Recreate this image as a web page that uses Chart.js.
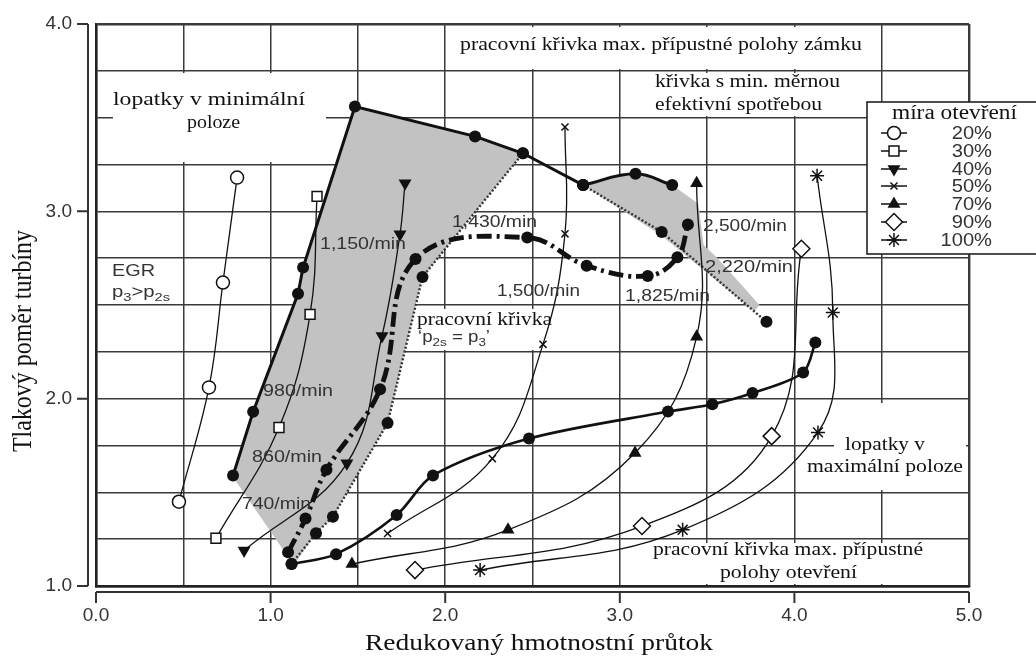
<!DOCTYPE html>
<html><head><meta charset="utf-8">
<script src="https://cdn.jsdelivr.net/npm/chart.js@4.4.1/dist/chart.umd.min.js"></script>
<style>html,body{margin:0;padding:0;background:#fff;}canvas{display:block;}</style>
</head><body>
<canvas id="c" width="1036" height="656"></canvas>
<script>
// ---------- data ----------
const xTickValues = [0, 1, 2, 3, 4, 5];
const yTickValues = [1, 2, 3, 4];
const xTitle = 'Redukovaný hmotnostní průtok';
const yTitle = 'Tlakový poměr turbíny';
const legendTitle = 'míra otevření';
const openingLabels = ['20%', '30%', '40%', '50%', '70%', '90%', '100%'];

const open20  = [[0.475,1.45],[0.647,2.06],[0.727,2.62],[0.808,3.18]];
const open30  = [[0.687,1.255],[1.048,1.846],[1.226,2.45],[1.266,3.08]];
const open40  = [[0.848,1.19],[1.437,1.655],[1.638,2.335],[1.741,2.878],[1.77,3.15]];
const open50  = [[1.67,1.28],[2.27,1.68],[2.56,2.29],[2.686,2.88],[2.686,3.45]];
const open70  = [[1.466,1.117],[2.36,1.30],[3.087,1.71],[3.44,2.33],[3.44,3.15]];
const open90  = [[1.827,1.085],[3.127,1.32],[3.87,1.80],[4.04,2.80]];
const open100 = [[2.20,1.085],[3.36,1.30],[4.135,1.82],[4.22,2.46],[4.13,3.19]];

const vaneMinLine = [[0.785,1.59],[0.9,1.93],[1.157,2.56],[1.186,2.70],[1.483,3.56],[2.171,3.40],[2.445,3.31],[2.79,3.14]];
const lockHump    = [[2.79,3.14],[3.09,3.20],[3.30,3.14]];
const vaneMaxLine = [[1.12,1.117],[1.375,1.17],[1.722,1.379],[1.93,1.59],[2.48,1.787],[3.276,1.931],[3.53,1.97],[3.76,2.03],[4.05,2.14],[4.12,2.30]];
const egrLine     = [[1.10,1.18],[1.20,1.36],[1.32,1.62],[1.627,2.05],[1.83,2.745],[2.47,2.86],[2.81,2.71],[3.16,2.655],[3.33,2.755],[3.39,2.93]];
const p2sEqP3Line = [[1.12,1.117],[1.26,1.282],[1.357,1.37],[1.67,1.87],[1.87,2.65],[2.445,3.31]];
const minBsfcLine = [[2.79,3.14],[3.24,2.89],[3.84,2.41]];

const shadeLow  = [[0.785,1.59],[0.9,1.93],[1.157,2.56],[1.186,2.70],[1.483,3.56],[2.171,3.40],[2.445,3.31],
                   [1.87,2.65],[1.67,1.87],[1.357,1.37],[1.26,1.282],[1.13,1.11],[1.09,1.17],[0.80,1.56]];
const shadeHigh = [[2.79,3.14],[2.94,3.19],[3.09,3.205],[3.20,3.185],[3.30,3.14],[3.45,3.04],[3.48,2.82],
                   [3.56,2.75],[3.80,2.50],[3.77,2.465],[3.24,2.87]];

// ---------- helpers ----------
const pts = a => a.map(([x, y]) => ({x, y}));
const INK = '#111';

function fitText(ctx, txt, family, size, x1, x2, yc, color) {
  ctx.save();
  ctx.font = size + 'px "' + family + '"';
  const w = ctx.measureText(txt).width;
  const sx = (x2 - x1) / w;
  ctx.fillStyle = color; ctx.textAlign = 'left'; ctx.textBaseline = 'middle';
  ctx.translate(x1, yc); ctx.scale(sx, 1);
  ctx.fillText(txt, 0, 0);
  ctx.restore();
}
function richText(ctx, parts, family, size, x1, x2, yc, color) {
  ctx.save();
  let total = 0;
  parts.forEach(([t, sub]) => { ctx.font = (sub ? size * 0.72 : size) + 'px "' + family + '"'; total += ctx.measureText(t).width; });
  const sx = (x2 - x1) / total;
  ctx.translate(x1, yc); ctx.scale(sx, 1);
  ctx.fillStyle = color; ctx.textAlign = 'left'; ctx.textBaseline = 'middle';
  let cx = 0;
  parts.forEach(([t, sub]) => {
    ctx.font = (sub ? size * 0.72 : size) + 'px "' + family + '"';
    ctx.fillText(t, cx, sub ? size * 0.28 : 0);
    cx += ctx.measureText(t).width;
  });
  ctx.restore();
}

const sansNotes = [
  ['1,150/min', 320, 406, 245], ['1,430/min', 452, 537, 223], ['1,500/min', 497, 580, 292],
  ['1,825/min', 625, 710, 297], ['2,500/min', 703, 787, 227], ['2,220/min', 705, 793, 268],
  ['980/min', 263, 333, 392], ['860/min', 252, 322, 458], ['740/min', 242, 311, 505], ['EGR', 112, 155, 272]
];
const serifNotes = [
  ['pracovní křivka max. přípustné polohy zámku', 460, 862, 45],
  ['křivka s min. měrnou', 655, 840, 82], ['efektivní spotřebou', 655, 822, 105],
  ['lopatky v minimální', 113, 305, 100], ['poloze', 187, 240, 123],
  ['lopatky v', 845, 925, 445], ['maximální poloze', 807, 963, 467],
  ['pracovní křivka max. přípustné', 653, 923, 550], ['polohy otevření', 720, 857, 573],
  ['pracovní křivka', 417, 552, 320]
];
const whiteBoxes = [[451,27,877,69],[626,73,877,116],[113,73,326,162],[834,403,966,490],[640,543,966,584],[413,309,556,350]];

const openingStyles = [
  {pointStyle:'circle', radius:6.5, fill:'#fff', rot:0},
  {pointStyle:'rect', radius:7, fill:'#fff', rot:0},
  {pointStyle:'triangle', radius:6, fill:INK, rot:180},
  {pointStyle:'crossRot', radius:5, fill:INK, rot:0},
  {pointStyle:'triangle', radius:6, fill:INK, rot:0},
  {pointStyle:'rectRot', radius:8.5, fill:'#fff', rot:0},
  {pointStyle:'star', radius:7, fill:INK, rot:0}
];
const openingData = [open20, open30, open40, open50, open70, open90, open100];

const datasets = openingData.map((d, i) => ({
  label: openingLabels[i], data: pts(d), showLine: true, tension: 0.4,
  borderColor: INK, borderWidth: 1.3,
  pointStyle: openingStyles[i].pointStyle, pointRadius: openingStyles[i].radius,
  pointRotation: openingStyles[i].rot, pointBackgroundColor: openingStyles[i].fill,
  pointBorderColor: INK, pointBorderWidth: 1.5, order: 1
}));
const dotStyle = {pointStyle:'circle', pointRadius:6, pointBackgroundColor:INK, pointBorderColor:INK, pointBorderWidth:0};
datasets.push(
  Object.assign({label:'min', data: pts(vaneMinLine), showLine:true, tension:0, borderColor:INK, borderWidth:3, order:2}, dotStyle),
  Object.assign({label:'hump', data: pts(lockHump), showLine:true, tension:0.4, borderColor:INK, borderWidth:3, order:2}, dotStyle),
  Object.assign({label:'max', data: pts(vaneMaxLine), showLine:true, tension:0.3, borderColor:INK, borderWidth:2.6, order:2}, dotStyle),
  Object.assign({label:'egr', data: pts(egrLine), showLine:true, tension:0.4, borderColor:INK, borderWidth:4.8, borderDash:[15,5,3,5], order:2}, dotStyle),
  Object.assign({label:'p2s', data: pts(p2sEqP3Line), showLine:true, tension:0, borderColor:'#333', borderWidth:2.4, borderDash:[2,2], order:2}, dotStyle),
  Object.assign({label:'bsfc', data: pts(minBsfcLine), showLine:true, tension:0, borderColor:'#333', borderWidth:2.4, borderDash:[2,2], order:2}, dotStyle),
  {label:'shadeLow', data: pts(shadeLow), showLine:true, tension:0, borderWidth:0, borderColor:'rgba(0,0,0,0)', pointRadius:0, backgroundColor:'#c2c2c2', fill:'shape', order:9},
  {label:'shadeHigh', data: pts(shadeHigh), showLine:true, tension:0, borderWidth:0, borderColor:'rgba(0,0,0,0)', pointRadius:0, backgroundColor:'#c2c2c2', fill:'shape', order:9}
);

const deco = {
  id: 'deco',
  beforeDatasetsDraw(chart) {
    const ctx = chart.ctx;
    ctx.save(); ctx.fillStyle = '#fff';
    whiteBoxes.forEach(b => ctx.fillRect(b[0], b[1], b[2] - b[0], b[3] - b[1]));
    ctx.restore();
  },
  afterDatasetsDraw(chart) {
    const ctx = chart.ctx;
    sansNotes.forEach(n => fitText(ctx, n[0], 'Liberation Sans', 16, n[1], n[2], n[3], '#333'));
    serifNotes.forEach(n => fitText(ctx, n[0], 'Liberation Serif', 19, n[1], n[2], n[3], '#111'));
    richText(ctx, [['p',0],['3',1],['>p',0],['2s',1]], 'Liberation Sans', 16, 112, 170, 293, '#333');
    richText(ctx, [['‘p',0],['2s',1],[' = p',0],['3',1],['’',0]], 'Liberation Sans', 16, 418, 490, 338, '#333');
  },
  afterDraw(chart) {
    const ctx = chart.ctx, xs = chart.scales.x, ys = chart.scales.y, a = chart.chartArea;
    ctx.save();
    ctx.strokeStyle = '#333'; ctx.lineWidth = 2;
    // offset axes
    ctx.beginPath();
    ctx.moveTo(88, a.top); ctx.lineTo(88, a.bottom);
    yTickValues.forEach(v => { const p = ys.getPixelForValue(v); ctx.moveTo(77, p); ctx.lineTo(88, p); });
    ctx.moveTo(a.left, 592); ctx.lineTo(a.right, 592);
    xTickValues.forEach(v => { const p = xs.getPixelForValue(v); ctx.moveTo(p, 592); ctx.lineTo(p, 603); });
    ctx.stroke();
    // axis titles
    fitText(ctx, xTitle, 'Liberation Serif', 24, 365, 713, 644, '#111');
    ctx.save();
    ctx.translate(24, 341); ctx.rotate(-Math.PI / 2);
    ctx.font = '24px "Liberation Serif"';
    const w = ctx.measureText(yTitle).width;
    ctx.scale(222 / w, 1.1);
    ctx.fillStyle = '#111'; ctx.textAlign = 'center'; ctx.textBaseline = 'middle';
    ctx.fillText(yTitle, 0, 0);
    ctx.restore();
    // legend
    ctx.fillStyle = '#fff'; ctx.fillRect(867, 102, 175, 152);
    ctx.strokeStyle = '#222'; ctx.lineWidth = 1.6; ctx.strokeRect(867, 102, 175, 152);
    fitText(ctx, legendTitle, 'Liberation Serif', 20, 892, 1017, 114, '#111');
    const rows = [133, 151, 169, 186, 204, 222, 240];
    openingLabels.forEach((lab, i) => {
      const y = rows[i], st = openingStyles[i];
      ctx.strokeStyle = INK; ctx.lineWidth = 1.5;
      ctx.beginPath(); ctx.moveTo(881, y); ctx.lineTo(907, y); ctx.stroke();
      ctx.fillStyle = st.fill;
      Chart.helpers.drawPoint(ctx, {pointStyle: st.pointStyle, radius: st.radius, rotation: st.rot, borderWidth: 1.5}, 894, y);
      ctx.save();
      ctx.font = '17.5px "Liberation Sans"';
      ctx.fillStyle = '#333'; ctx.textAlign = 'right'; ctx.textBaseline = 'middle';
      ctx.translate(992, y + 1); ctx.scale(1.15, 1);
      ctx.fillText(lab, 0, 0);
      ctx.restore();
    });
    ctx.restore();
  }
};

const edgeW = (c, lo, hi) => (c.tick && (c.tick.value === lo || c.tick.value === hi)) ? 2.4 : 1.5;

new Chart(document.getElementById('c'), {
  type: 'scatter',
  data: { datasets },
  options: {
    responsive: false, animation: false, devicePixelRatio: 1,
    layout: { padding: { left: 0, top: 24, right: 67, bottom: 0 } },
    plugins: { legend: { display: false }, tooltip: { enabled: false } },
    scales: {
      x: {
        type: 'linear', min: 0, max: 5,
        afterFit: s => { s.height = 70; s.paddingLeft = 0; s.paddingRight = 0; s.paddingTop = 0; s.paddingBottom = 0; },
        grid: { color: '#3a3a3a', lineWidth: c => edgeW(c, 0, 5), drawTicks: false },
        border: { display: true, color: '#222', width: 2.4 },
        ticks: { stepSize: 0.5, autoSkip: false, padding: 18, color: '#333',
                 font: { family: 'Liberation Sans', size: 19 },
                 callback: v => xTickValues.includes(v) ? v.toFixed(1) : '' }
      },
      y: {
        type: 'linear', min: 1, max: 4,
        afterFit: s => { s.width = 96; s.paddingTop = 0; s.paddingBottom = 0; s.paddingLeft = 0; s.paddingRight = 0; },
        grid: { color: '#3a3a3a', lineWidth: c => edgeW(c, 1, 4), drawTicks: false },
        border: { display: true, color: '#222', width: 2.4 },
        ticks: { stepSize: 0.25, autoSkip: false, padding: 24, color: '#333',
                 font: { family: 'Liberation Sans', size: 19 },
                 callback: v => yTickValues.includes(v) ? v.toFixed(1) : '' }
      }
    }
  },
  plugins: [deco]
});
</script>
</body></html>
